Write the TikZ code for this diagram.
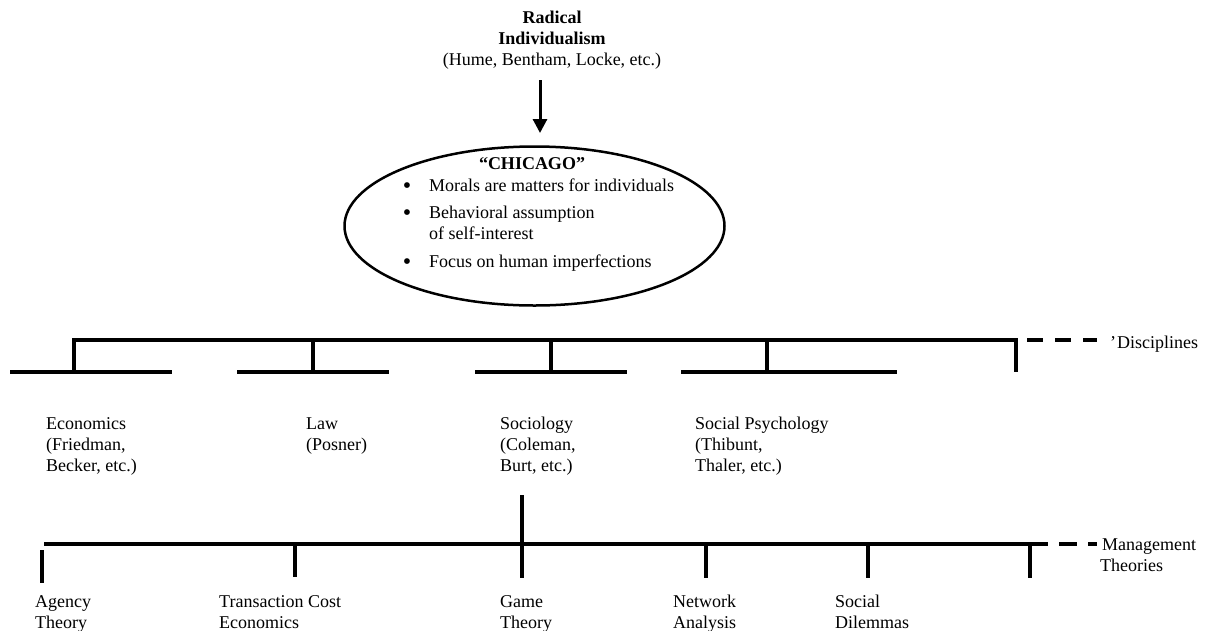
\documentclass[tikz,border=0pt]{standalone}
\usepackage{fontspec}
\setmainfont{Liberation Serif}
\usetikzlibrary{arrows.meta,shapes.geometric}
\begin{document}
\begin{tikzpicture}[x=1pt,y=-1pt,
  bar/.style={line width=3.5pt},
  dashbar/.style={line width=3.5pt, dash pattern=on 16pt off 12pt},
  lbl/.style={anchor=base west, inner sep=0pt, align=left, font=\fontsize{18}{21}\selectfont},
  clbl/.style={anchor=base, inner sep=0pt, align=center, font=\fontsize{18}{21}\selectfont},
  bul/.style={anchor=base, inner sep=0pt, font=\fontsize{18}{21}\selectfont},
  dot/.style={anchor=base, inner sep=0pt, font=\fontsize{24}{24}\selectfont}]
\useasboundingbox (0,0) rectangle (1207,630);

% top source (base anchor = last line's baseline)
\node[clbl] (radical) at (552,65) {\textbf{Radical}\\\textbf{Individualism}\\(Hume, Bentham, Locke, etc.)};
\coordinate (arrS) at (540,80);
\coordinate (arrE) at (540,133);
\draw[line width=3pt, -{Triangle[width=14pt,length=14pt]}] (arrS) -- (arrE);

% Chicago ellipse
\node[ellipse, draw, line width=2.5pt, minimum width=380pt, minimum height=159pt, inner sep=0pt] (chicago) at (534.5,226) {};
\node[bul] (chtitle) at (532,169) {\textbf{“CHICAGO”}};
\node[dot] (b1) at (407,193) {\textbullet};
\node[lbl] (t1) at (429,191) {Morals are matters for individuals};
\node[dot] (b2) at (407,220) {\textbullet};
\node[lbl] (t2) at (429,239) {Behavioral assumption\\of self-interest};
\node[dot] (b3) at (407,269) {\textbullet};
\node[lbl] (t3) at (429,267) {Focus on human imperfections};

% Disciplines bracket
\coordinate (dA) at (74,372);
\coordinate (dB) at (74,340);
\coordinate (dC) at (1016,340);
\coordinate (dD) at (1016,372);
\draw[bar] (dA) -- (dB) -- (dC) -- (dD);
\foreach \xx in {313,551,767} \draw[bar] (\xx,340) -- (\xx,372);
\draw[bar] (10,372) -- (172,372);
\draw[bar] (237,372) -- (389,372);
\draw[bar] (475,372) -- (627,372);
\draw[bar] (681,372) -- (897,372);
\coordinate (dashD) at (1027,340);
\coordinate (dashDe) at (1097,340);
\draw[dashbar] (dashD) -- (dashDe);
\node[lbl] (disc) at (1110,348) {'\kern1ptDisciplines};

\node[lbl] (econ) at (46,471) {Economics\\(Friedman,\\Becker, etc.)};
\node[lbl] (law) at (306,450) {Law\\(Posner)};
\node[lbl] (soc) at (500,471) {Sociology\\(Coleman,\\Burt, etc.)};
\node[lbl] (socpsy) at (695,471) {Social Psychology\\(Thibunt,\\Thaler, etc.)};

% Management theories bar
\coordinate (mA) at (44,544);
\coordinate (mB) at (1030,544);
\coordinate (mC) at (1030,578);
\draw[bar] (mA) -- (mB) -- (mC);
\draw[bar] (42,550) -- (42,583);
\draw[bar] (295,544) -- (295,577);
\draw[bar] (522,495) -- (522,578);
\draw[bar] (706,544) -- (706,578);
\draw[bar] (868,544) -- (868,578);
\coordinate (dashM) at (1030,544);
\coordinate (dashMe) at (1097,544);
\draw[line width=3.5pt, dash pattern=on 18pt off 11pt] (dashM) -- (dashMe);
\node[lbl] (mgmt) at (1102,571) {Management\\\kern-2pt Theories};

\node[lbl] (agency) at (35,628) {Agency\\Theory};
\node[lbl] (tce) at (219,628) {Transaction Cost\\Economics};
\node[lbl] (game) at (500,628) {Game\\Theory};
\node[lbl] (net) at (673,628) {Network\\Analysis};
\node[lbl] (socdil) at (835,628) {Social\\Dilemmas};
\end{tikzpicture}
\end{document}
